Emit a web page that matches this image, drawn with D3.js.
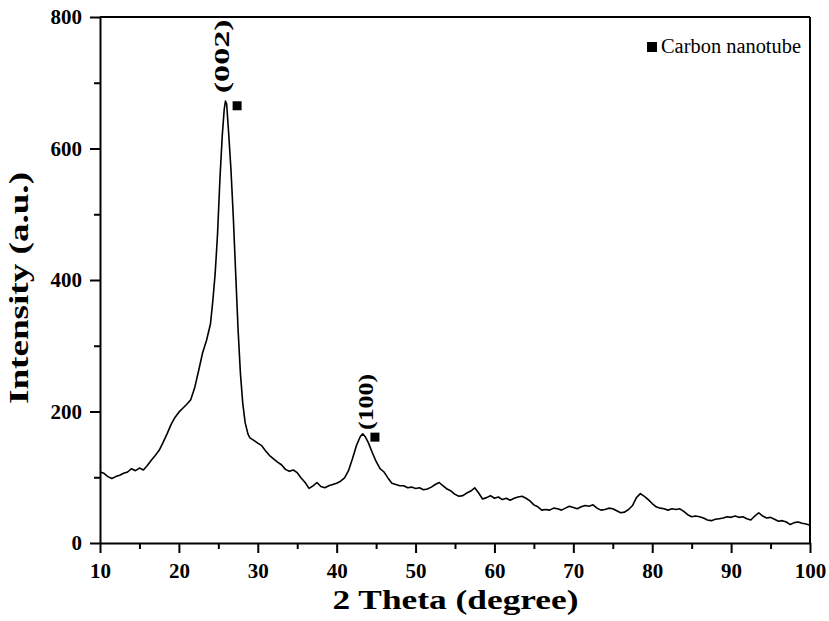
<!DOCTYPE html>
<html>
<head>
<meta charset="utf-8">
<script src="https://cdn.jsdelivr.net/npm/d3@7"></script>
<style>
  body { margin: 0; background: #fff; }
  svg text { font-family: "Liberation Serif", "Times New Roman", serif; }
</style>
</head>
<body>
<div class="xrd-chart"></div>
<script>
// 2 theta positions (degree) and intensity (a.u.)
const twoTheta = [
  10.0, 10.5, 11.0, 11.5, 12.0, 12.5, 13.0, 13.5, 14.0, 14.5, 15.0, 15.5, 16.0, 16.5, 17.0, 17.5,
  18.0, 18.5, 19.0, 19.5, 20.0, 20.5, 21.0, 21.5, 22.0, 22.5, 23.0, 23.5, 24.0, 24.3, 24.6, 24.9,
  25.2, 25.5, 25.75, 25.9, 26.05, 26.3, 26.6, 26.9, 27.2, 27.5, 27.8, 28.1, 28.4, 28.75, 29.0, 29.5,
  30.0, 30.5, 31.0, 31.5, 32.0, 32.5, 33.0, 33.5, 34.0, 34.5, 35.0, 35.5, 36.0, 36.5, 37.0, 37.5,
  38.0, 38.5, 39.0, 39.5, 40.0, 40.5, 41.0, 41.5, 42.0, 42.5, 43.0, 43.3, 43.6, 44.0, 44.5, 45.0,
  45.5, 46.0, 46.5, 47.0, 47.5, 48.0, 48.5, 49.0, 49.5, 50.0, 50.5, 51.0, 51.5, 52.0, 52.5, 53.0,
  53.5, 54.0, 54.5, 55.0, 55.5, 56.0, 56.5, 57.0, 57.5, 58.0, 58.5, 59.0, 59.5, 60.0, 60.5, 61.0,
  61.5, 62.0, 62.5, 63.0, 63.5, 64.0, 64.5, 65.0, 65.5, 66.0, 66.5, 67.0, 67.5, 68.0, 68.5, 69.0,
  69.5, 70.0, 70.5, 71.0, 71.5, 72.0, 72.5, 73.0, 73.5, 74.0, 74.5, 75.0, 75.5, 76.0, 76.5, 77.0,
  77.5, 78.0, 78.5, 79.0, 79.5, 80.0, 80.5, 81.0, 81.5, 82.0, 82.5, 83.0, 83.5, 84.0, 84.5, 85.0,
  85.5, 86.0, 86.5, 87.0, 87.5, 88.0, 88.5, 89.0, 89.5, 90.0, 90.5, 91.0, 91.5, 92.0, 92.5, 93.0,
  93.5, 94.0, 94.5, 95.0, 95.5, 96.0, 96.5, 97.0, 97.5, 98.0, 98.5, 99.0, 99.5, 100.0
];
const intensity = [
  108, 106, 101, 98, 101, 103, 106, 108, 113, 110, 114, 111, 118, 126, 133, 141,
  153, 166, 180, 191, 199, 205, 211, 218, 236, 262, 289, 308, 333, 368, 410, 470,
  553, 620, 660, 672, 668, 625, 568, 495, 410, 325, 258, 212, 183, 166, 160, 156,
  152, 148, 140, 133, 128, 123, 119, 112, 109, 111, 107, 99, 92, 83, 87, 92,
  86, 84, 87, 89, 91, 94, 99, 110, 128, 148, 162, 166, 162, 153, 138, 124,
  113, 108, 99, 91, 89, 87, 87, 84, 85, 83, 84, 81, 82, 85, 89, 92,
  87, 82, 79, 74, 71, 72, 76, 79, 84, 76, 67, 69, 72, 68, 70, 66,
  68, 65, 68, 70, 71, 68, 64, 58, 55, 50, 51, 50, 53, 52, 50, 53,
  56, 54, 52, 55, 57, 56, 58, 53, 50, 51, 53, 52, 49, 46, 47, 51,
  57, 69, 75, 71, 66, 60, 55, 53, 52, 50, 52, 51, 52, 48, 43, 40,
  41, 40, 38, 35, 34, 36, 37, 38, 40, 39, 41, 39, 40, 37, 35, 41,
  46, 41, 38, 39, 36, 33, 34, 32, 28, 31, 32, 30, 29, 27
];

// peak indexing: label text, label anchor, marker position
const peakLabels = ["(002)", "(100)"];
const peakLabelX = [25.41, 43.68];
const peakLabelY = [684, 172];
const peakLabelLen = [74, 56];
const markerX = [27.38, 44.85];
const markerY = [665, 161];

const legendLabel = "Carbon nanotube";
const xTicks = [10, 20, 30, 40, 50, 60, 70, 80, 90, 100];
const yTicks = [0, 200, 400, 600, 800];

const margin = { top: 17, right: 19, bottom: 78, left: 100 };
const width = 829 - margin.left - margin.right;
const height = 621 - margin.top - margin.bottom;

const svg = d3.select(".xrd-chart").append("svg")
  .attr("width", width + margin.left + margin.right)
  .attr("height", height + margin.top + margin.bottom)
  .append("g")
  .attr("transform", `translate(${margin.left}, ${margin.top})`);

const x = d3.scaleLinear().domain([10, 100]).range([0, width]);
const y = d3.scaleLinear().domain([0, 800]).range([height, 0]);

// minor ticks first, major ticks + labels on top
svg.append("g")
  .attr("transform", `translate(0, ${height})`)
  .call(d3.axisBottom(x).tickValues(d3.range(15, 100, 10)).tickSize(6).tickFormat(""))
  .call(g => g.select(".domain").remove())
  .call(g => g.selectAll("line").attr("stroke", "#000").attr("stroke-width", 2));
svg.append("g")
  .call(d3.axisLeft(y).tickValues(d3.range(100, 800, 200)).tickSize(6).tickFormat(""))
  .call(g => g.select(".domain").remove())
  .call(g => g.selectAll("line").attr("stroke", "#000").attr("stroke-width", 2));

const xAxis = svg.append("g")
  .attr("transform", `translate(0, ${height})`)
  .call(d3.axisBottom(x).tickValues(xTicks).tickSize(10).tickPadding(10).tickSizeOuter(0));
const yAxis = svg.append("g")
  .call(d3.axisLeft(y).tickValues(yTicks).tickSize(10).tickPadding(8).tickSizeOuter(0));

[xAxis, yAxis].forEach(ax => {
  ax.select(".domain").attr("stroke", "#000").attr("stroke-width", 2);
  ax.selectAll(".tick line").attr("stroke", "#000").attr("stroke-width", 2);
  ax.selectAll(".tick text")
    .attr("fill", "#000")
    .style("font-family", '"Liberation Serif", "Times New Roman", serif')
    .style("font-size", "21px")
    .style("font-weight", "bold");
});

// top and right frame
svg.append("line").attr("x1", 0).attr("x2", width).attr("y1", 0).attr("y2", 0)
  .attr("stroke", "#000").attr("stroke-width", 2);
svg.append("line").attr("x1", width).attr("x2", width).attr("y1", 0).attr("y2", height)
  .attr("stroke", "#000").attr("stroke-width", 2);

const points = twoTheta.map((t, i) => ({ t: t, v: intensity[i] }));
const valueLine = d3.line()
  .x(d => x(d.t))
  .y(d => y(d.v));

svg.append("path")
  .datum(points)
  .attr("fill", "none")
  .attr("stroke", "#000")
  .attr("stroke-width", 1.6)
  .attr("stroke-linejoin", "round")
  .attr("d", valueLine);

// peak markers and hkl labels
svg.selectAll(".marker")
  .data(markerX)
  .enter().append("rect")
  .attr("x", (d, i) => x(d) - 4.5)
  .attr("y", (d, i) => y(markerY[i]) - 4.5)
  .attr("width", 9)
  .attr("height", 9)
  .attr("fill", "#000");

svg.selectAll(".peak-label")
  .data(peakLabels)
  .enter().append("text")
  .attr("transform", (d, i) => `translate(${x(peakLabelX[i])}, ${y(peakLabelY[i])}) rotate(-90)`)
  .attr("dominant-baseline", "central")
  .attr("text-anchor", "start")
  .attr("textLength", (d, i) => peakLabelLen[i])
  .attr("lengthAdjust", "spacingAndGlyphs")
  .style("font-size", "22px")
  .style("font-weight", "bold")
  .text(d => d);

// legend
svg.append("rect")
  .attr("x", 547).attr("y", 25).attr("width", 10).attr("height", 10)
  .attr("fill", "#000");
svg.append("text")
  .attr("x", 561).attr("y", 36)
  .attr("textLength", 140)
  .attr("lengthAdjust", "spacingAndGlyphs")
  .style("font-size", "20px")
  .text(legendLabel);

// axis titles
svg.append("text")
  .attr("x", width / 2 + 0.5).attr("y", height + 66)
  .attr("text-anchor", "middle")
  .attr("textLength", 246)
  .attr("lengthAdjust", "spacingAndGlyphs")
  .style("font-size", "27px")
  .style("font-weight", "bold")
  .text("2 Theta (degree)");
svg.append("text")
  .attr("transform", `translate(${-72}, ${y(400) + 8}) rotate(-90)`)
  .attr("text-anchor", "middle")
  .attr("textLength", 232)
  .attr("lengthAdjust", "spacingAndGlyphs")
  .style("font-size", "27px")
  .style("font-weight", "bold")
  .text("Intensity (a.u.)");
</script>
</body>
</html>
